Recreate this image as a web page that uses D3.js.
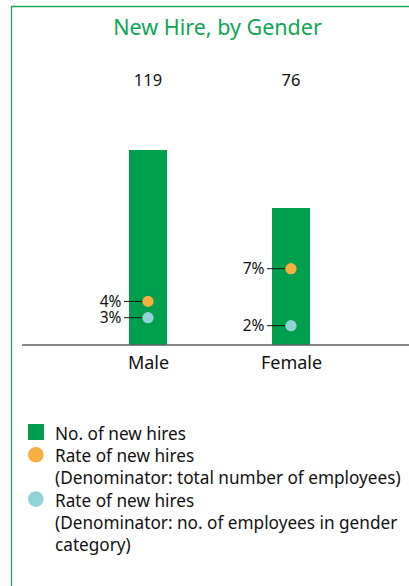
<!DOCTYPE html>
<html>
<head>
<meta charset="utf-8">
<script src="https://cdn.jsdelivr.net/npm/d3@7"></script>
<style>
  html, body { margin: 0; padding: 0; background: #fff; }
  svg { display: block; font-family: "Noto Sans", Lato, sans-serif; }
</style>
</head>
<body>
<svg id="chart" width="409" height="586"></svg>
<script>
// New hires by gender: head count bars plus two hiring-rate markers per bar
const categories = ["Male", "Female"];
const newHires = [119, 76];
const rateOfTotal = [4, 7];      // % of total employees
const rateOfGender = [3, 2];     // % of employees in gender category
const legendItems = [
  { shape: "square", color: "#009f4d", lines: ["No. of new hires"] },
  { shape: "circle", color: "#f9ae42", lines: ["Rate of new hires", "(Denominator: total number of employees)"] },
  { shape: "circle", color: "#8fd4d7", lines: ["Rate of new hires", "(Denominator: no. of employees in gender", "category)"] }
];

const GREEN = "#009f4d";
const ORANGE = "#f9ae42";
const TEAL = "#8fd4d7";

const svg = d3.select("#chart");

// frame: left and top rules
svg.append("path")
  .attr("d", "M11.5,586V6.5H409")
  .attr("fill", "none")
  .attr("stroke", "#1aa85a")
  .attr("stroke-width", 1.3);

svg.append("text")
  .attr("x", 217.5).attr("y", 35)
  .attr("text-anchor", "middle")
  .attr("fill", "#0fa653")
  .attr("font-size", 21.5)
  .text("New Hire, by Gender");

const baseline = 344.5;
const barWidth = 38;

const x = d3.scalePoint().domain(categories).range([148, 291]);
const yCount = d3.scaleLinear().domain([0, 119]).range([310.5, 150]);
// each rate has its own denominator, so each gets its own vertical scale
const yTotal = d3.scaleLinear().domain([0, 10]).range([345, 236]);
const yGender = d3.scaleLinear().domain([0, 10]).range([341.7, 261.7]);

const rows = categories.map((c, i) => ({
  cat: c, hires: newHires[i], total: rateOfTotal[i], gender: rateOfGender[i]
}));

// bars
svg.append("g").selectAll("rect").data(rows).join("rect")
  .attr("x", d => x(d.cat) - barWidth / 2)
  .attr("width", barWidth)
  .attr("y", d => yCount(d.hires))
  .attr("height", d => baseline - yCount(d.hires))
  .attr("fill", GREEN);

// head count labels above the plot
svg.append("g").selectAll("text").data(rows).join("text")
  .attr("x", d => x(d.cat))
  .attr("y", 86)
  .attr("text-anchor", "middle")
  .attr("font-size", 16.5)
  .attr("fill", "#111")
  .text(d => d.hires);

// rate markers with leader lines and labels
const markers = rows.flatMap(d => [
  { cat: d.cat, v: d.total, y: yTotal(d.total), color: ORANGE },
  { cat: d.cat, v: d.gender, y: yGender(d.gender), color: TEAL }
]);
const mg = svg.append("g");
mg.selectAll("line").data(markers).join("line")
  .attr("x1", d => x(d.cat) - 24)
  .attr("x2", d => x(d.cat) - 6)
  .attr("y1", d => d.y)
  .attr("y2", d => d.y)
  .attr("stroke", "#111")
  .attr("stroke-width", 1);
mg.selectAll("circle").data(markers).join("circle")
  .attr("cx", d => x(d.cat))
  .attr("cy", d => d.y)
  .attr("r", 5.6)
  .attr("fill", d => d.color);
mg.selectAll("text").data(markers).join("text")
  .attr("x", d => x(d.cat) - 26.5)
  .attr("y", d => d.y)
  .attr("dy", "0.35em")
  .attr("text-anchor", "end")
  .attr("font-size", 15.5)
  .attr("fill", "#111")
  .text(d => d.v + "%");

// category axis
const axis = svg.append("g")
  .attr("transform", `translate(0,${baseline})`)
  .call(d3.axisBottom(x).tickSize(0).tickPadding(12));
axis.select(".domain").remove();
axis.selectAll("text")
  .attr("font-family", "'Noto Sans', Lato, sans-serif")
  .attr("font-size", 18)
  .attr("fill", "#111");
svg.append("line")
  .attr("x1", 22).attr("x2", 409)
  .attr("y1", baseline + 0.5).attr("y2", baseline + 0.5)
  .attr("stroke", "#111").attr("stroke-width", 1.2);

// legend
const lineH = 22.2;
let rowY = 440;
const lg = svg.append("g");
legendItems.forEach(item => {
  if (item.shape === "square") {
    lg.append("rect").attr("x", 28).attr("y", rowY - 16).attr("width", 16).attr("height", 16).attr("fill", item.color);
  } else {
    lg.append("circle").attr("cx", 35.8).attr("cy", rowY - 7.5).attr("r", 7.8).attr("fill", item.color);
  }
  item.lines.forEach((t, j) => {
    lg.append("text")
      .attr("x", 55).attr("y", rowY + j * lineH)
      .attr("font-size", 17.2)
      .attr("fill", "#111")
      .text(t);
  });
  rowY += item.lines.length * lineH;
});
</script>
</body>
</html>
